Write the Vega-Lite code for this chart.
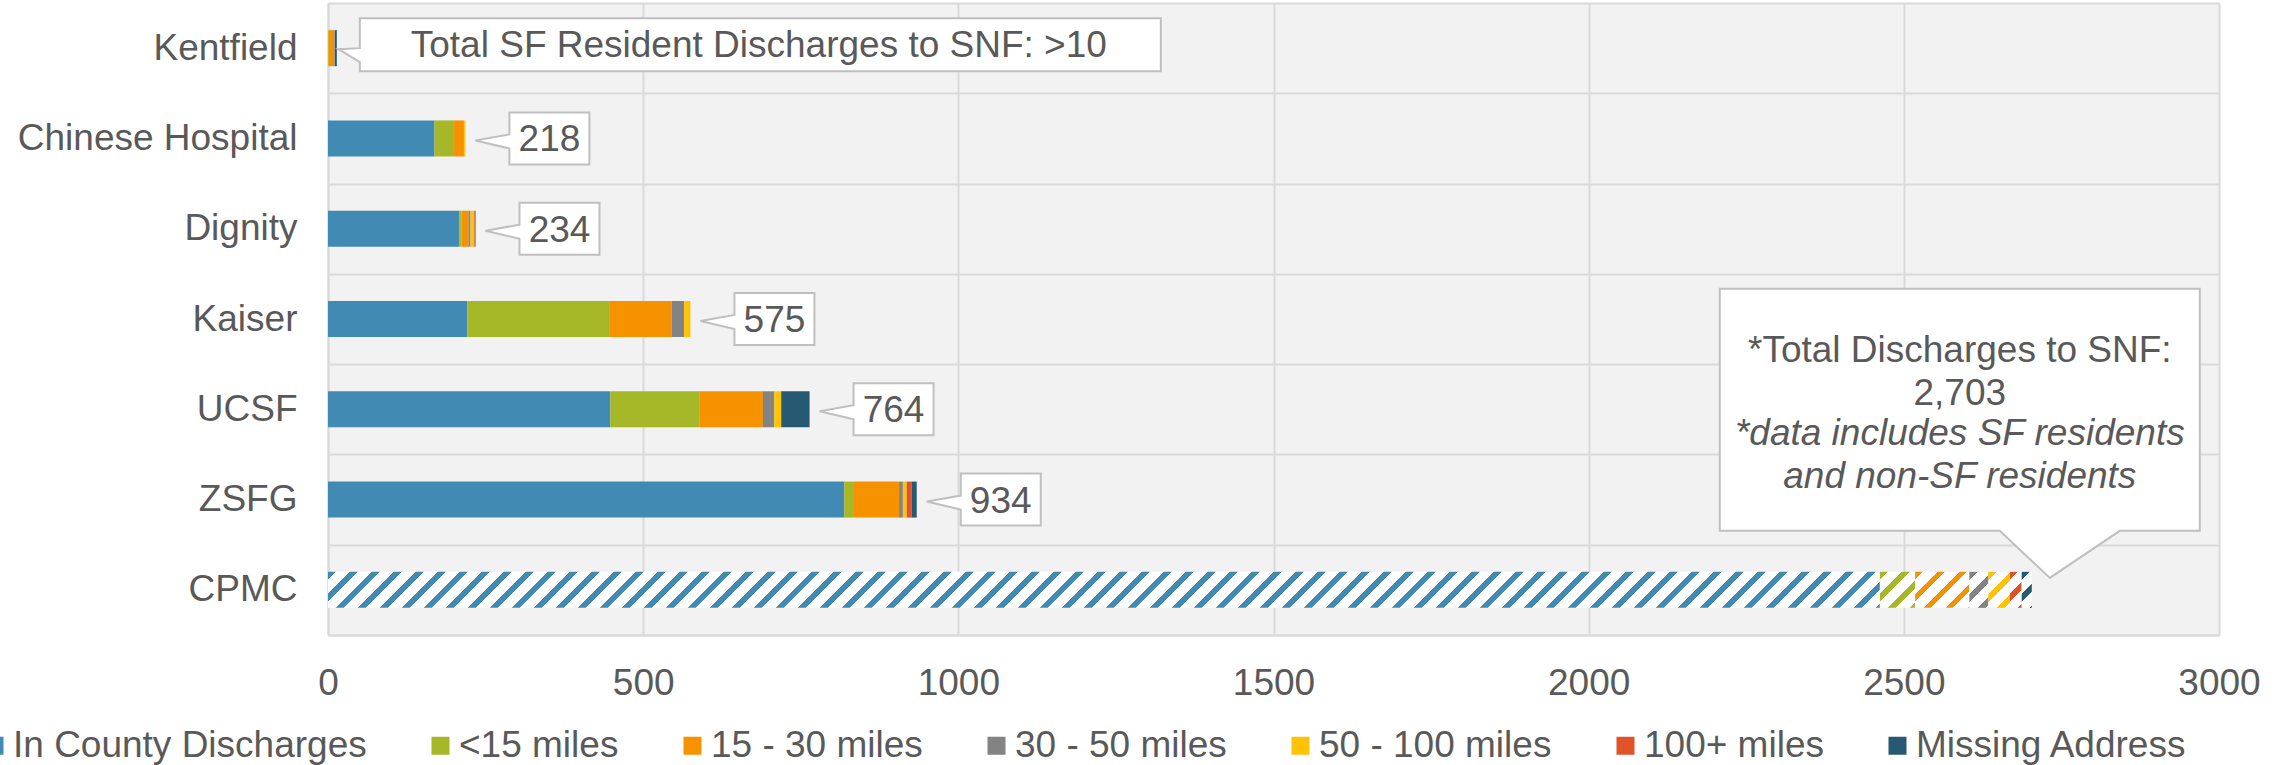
{
"$schema":"https://vega.github.io/schema/vega-lite/v6.json",
"width":1891,"height":632,"autosize":"none",
"padding":{"left":328,"top":3,"right":70,"bottom":130},
"background":"#ffffff",
"config":{"view":{"fill":"#F2F2F2","stroke":null},"font":"Liberation Sans"},
"datasets":{"snf":[
{"hospital":"Kentfield","band":"<15 miles","value":1},
{"hospital":"Kentfield","band":"15 - 30 miles","value":9},
{"hospital":"Kentfield","band":"30 - 50 miles","value":1},
{"hospital":"Kentfield","band":"Missing Address","value":3},
{"hospital":"Chinese Hospital","band":"In County Discharges","value":169},
{"hospital":"Chinese Hospital","band":"<15 miles","value":31},
{"hospital":"Chinese Hospital","band":"15 - 30 miles","value":15},
{"hospital":"Chinese Hospital","band":"30 - 50 miles","value":1},
{"hospital":"Chinese Hospital","band":"50 - 100 miles","value":2},
{"hospital":"Dignity","band":"In County Discharges","value":208},
{"hospital":"Dignity","band":"<15 miles","value":4},
{"hospital":"Dignity","band":"15 - 30 miles","value":11},
{"hospital":"Dignity","band":"30 - 50 miles","value":3},
{"hospital":"Dignity","band":"50 - 100 miles","value":6},
{"hospital":"Dignity","band":"100+ miles","value":1},
{"hospital":"Dignity","band":"Missing Address","value":1},
{"hospital":"Kaiser","band":"In County Discharges","value":221},
{"hospital":"Kaiser","band":"<15 miles","value":225},
{"hospital":"Kaiser","band":"15 - 30 miles","value":99},
{"hospital":"Kaiser","band":"30 - 50 miles","value":20},
{"hospital":"Kaiser","band":"50 - 100 miles","value":10},
{"hospital":"UCSF","band":"In County Discharges","value":448},
{"hospital":"UCSF","band":"<15 miles","value":141},
{"hospital":"UCSF","band":"15 - 30 miles","value":101},
{"hospital":"UCSF","band":"30 - 50 miles","value":18},
{"hospital":"UCSF","band":"50 - 100 miles","value":11},
{"hospital":"UCSF","band":"Missing Address","value":45},
{"hospital":"ZSFG","band":"In County Discharges","value":819},
{"hospital":"ZSFG","band":"<15 miles","value":14},
{"hospital":"ZSFG","band":"15 - 30 miles","value":73},
{"hospital":"ZSFG","band":"30 - 50 miles","value":6},
{"hospital":"ZSFG","band":"50 - 100 miles","value":6},
{"hospital":"ZSFG","band":"100+ miles","value":8},
{"hospital":"ZSFG","band":"Missing Address","value":8},
{"hospital":"CPMC","band":"In County Discharges","value":2462},
{"hospital":"CPMC","band":"<15 miles","value":56},
{"hospital":"CPMC","band":"15 - 30 miles","value":86},
{"hospital":"CPMC","band":"30 - 50 miles","value":30},
{"hospital":"CPMC","band":"50 - 100 miles","value":34},
{"hospital":"CPMC","band":"100+ miles","value":19},
{"hospital":"CPMC","band":"Missing Address","value":16}
]},
"data":{"name":"snf"},
"transform":[
{"calculate":"indexof(['In County Discharges','<15 miles','15 - 30 miles','30 - 50 miles','50 - 100 miles','100+ miles','Missing Address'], datum.band)","as":"ord"},
{"stack":"value","groupby":["hospital"],"sort":[{"field":"ord","order":"ascending"}],"as":["x0","x1"]}
],
"encoding":{"y":{"field":"hospital","type":"nominal","title":null,
"scale":{"domain":["Kentfield","Chinese Hospital","Dignity","Kaiser","UCSF","ZSFG","CPMC"],"paddingInner":0,"paddingOuter":0},
"axis":{"labelFontSize":37,"labelColor":"#595959","labelPadding":31,"ticks":false,"tickSize":0,"domain":true,"domainColor":"#D9D9D9","domainWidth":2,"grid":true,"gridColor":"#D9D9D9","gridWidth":2,"tickBand":"extent","labelLimit":0}}},
"layer":[
{"transform":[{"filter":"datum.hospital != 'CPMC'"}],
"mark":{"type":"bar","size":36},
"encoding":{
"x":{"field":"x0","type":"quantitative","title":null,"scale":{"domain":[0,3000],"nice":false},
"axis":{"values":[0,500,1000,1500,2000,2500,3000],"format":"d","labelFontSize":37,"labelColor":"#595959","labelPadding":30,"ticks":false,"domain":true,"domainColor":"#D9D9D9","domainWidth":2,"grid":true,"gridColor":"#D9D9D9","gridWidth":2,"labelFlush":false,"labelOverlap":false}},
"x2":{"field":"x1"},
"color":{"field":"band","type":"nominal",
"scale":{"domain":["In County Discharges","<15 miles","15 - 30 miles","30 - 50 miles","50 - 100 miles","100+ miles","Missing Address"],"range":["#418AB3","#A6B727","#F69200","#838383","#FEC306","#DF5327","#255A72"]},
"legend":{"title":null,"orient":"none","legendX":-352,"legendY":724,"direction":"horizontal","symbolType":"square","symbolSize":324,"symbolStrokeWidth":0,"symbolOpacity":1,"labelFontSize":37,"labelColor":"#595959","labelOffset":0,"columnPadding":55,"labelLimit":0,"padding":0}}}},
{"transform":[{"filter":"datum.hospital == 'CPMC' && datum.band == 'In County Discharges'"}],
"mark":{"type":"bar","size":36,"fill":{"gradient":"linear","x1":0,"y1":0,"x2":1.1335,"y2":0.026294,"stops":[
{"offset":0,"color":"#418AB3"},{"offset":0.0045,"color":"#418AB3"},{"offset":0.0045,"color":"#fff"},{"offset":0.0125,"color":"#fff"},
{"offset":0.0125,"color":"#418AB3"},{"offset":0.017,"color":"#418AB3"},{"offset":0.017,"color":"#fff"},{"offset":0.025,"color":"#fff"},
{"offset":0.025,"color":"#418AB3"},{"offset":0.0295,"color":"#418AB3"},{"offset":0.0295,"color":"#fff"},{"offset":0.0375,"color":"#fff"},
{"offset":0.0375,"color":"#418AB3"},{"offset":0.042,"color":"#418AB3"},{"offset":0.042,"color":"#fff"},{"offset":0.05,"color":"#fff"},
{"offset":0.05,"color":"#418AB3"},{"offset":0.0545,"color":"#418AB3"},{"offset":0.0545,"color":"#fff"},{"offset":0.0625,"color":"#fff"},
{"offset":0.0625,"color":"#418AB3"},{"offset":0.067,"color":"#418AB3"},{"offset":0.067,"color":"#fff"},{"offset":0.075,"color":"#fff"},
{"offset":0.075,"color":"#418AB3"},{"offset":0.0795,"color":"#418AB3"},{"offset":0.0795,"color":"#fff"},{"offset":0.0875,"color":"#fff"},
{"offset":0.0875,"color":"#418AB3"},{"offset":0.092,"color":"#418AB3"},{"offset":0.092,"color":"#fff"},{"offset":0.1,"color":"#fff"},
{"offset":0.1,"color":"#418AB3"},{"offset":0.1045,"color":"#418AB3"},{"offset":0.1045,"color":"#fff"},{"offset":0.1125,"color":"#fff"},
{"offset":0.1125,"color":"#418AB3"},{"offset":0.117,"color":"#418AB3"},{"offset":0.117,"color":"#fff"},{"offset":0.125,"color":"#fff"},
{"offset":0.125,"color":"#418AB3"},{"offset":0.1295,"color":"#418AB3"},{"offset":0.1295,"color":"#fff"},{"offset":0.1375,"color":"#fff"},
{"offset":0.1375,"color":"#418AB3"},{"offset":0.142,"color":"#418AB3"},{"offset":0.142,"color":"#fff"},{"offset":0.15,"color":"#fff"},
{"offset":0.15,"color":"#418AB3"},{"offset":0.1545,"color":"#418AB3"},{"offset":0.1545,"color":"#fff"},{"offset":0.1625,"color":"#fff"},
{"offset":0.1625,"color":"#418AB3"},{"offset":0.167,"color":"#418AB3"},{"offset":0.167,"color":"#fff"},{"offset":0.175,"color":"#fff"},
{"offset":0.175,"color":"#418AB3"},{"offset":0.1795,"color":"#418AB3"},{"offset":0.1795,"color":"#fff"},{"offset":0.1875,"color":"#fff"},
{"offset":0.1875,"color":"#418AB3"},{"offset":0.192,"color":"#418AB3"},{"offset":0.192,"color":"#fff"},{"offset":0.2,"color":"#fff"},
{"offset":0.2,"color":"#418AB3"},{"offset":0.2045,"color":"#418AB3"},{"offset":0.2045,"color":"#fff"},{"offset":0.2125,"color":"#fff"},
{"offset":0.2125,"color":"#418AB3"},{"offset":0.217,"color":"#418AB3"},{"offset":0.217,"color":"#fff"},{"offset":0.225,"color":"#fff"},
{"offset":0.225,"color":"#418AB3"},{"offset":0.2295,"color":"#418AB3"},{"offset":0.2295,"color":"#fff"},{"offset":0.2375,"color":"#fff"},
{"offset":0.2375,"color":"#418AB3"},{"offset":0.242,"color":"#418AB3"},{"offset":0.242,"color":"#fff"},{"offset":0.25,"color":"#fff"},
{"offset":0.25,"color":"#418AB3"},{"offset":0.2545,"color":"#418AB3"},{"offset":0.2545,"color":"#fff"},{"offset":0.2625,"color":"#fff"},
{"offset":0.2625,"color":"#418AB3"},{"offset":0.267,"color":"#418AB3"},{"offset":0.267,"color":"#fff"},{"offset":0.275,"color":"#fff"},
{"offset":0.275,"color":"#418AB3"},{"offset":0.2795,"color":"#418AB3"},{"offset":0.2795,"color":"#fff"},{"offset":0.2875,"color":"#fff"},
{"offset":0.2875,"color":"#418AB3"},{"offset":0.292,"color":"#418AB3"},{"offset":0.292,"color":"#fff"},{"offset":0.3,"color":"#fff"},
{"offset":0.3,"color":"#418AB3"},{"offset":0.3045,"color":"#418AB3"},{"offset":0.3045,"color":"#fff"},{"offset":0.3125,"color":"#fff"},
{"offset":0.3125,"color":"#418AB3"},{"offset":0.317,"color":"#418AB3"},{"offset":0.317,"color":"#fff"},{"offset":0.325,"color":"#fff"},
{"offset":0.325,"color":"#418AB3"},{"offset":0.3295,"color":"#418AB3"},{"offset":0.3295,"color":"#fff"},{"offset":0.3375,"color":"#fff"},
{"offset":0.3375,"color":"#418AB3"},{"offset":0.342,"color":"#418AB3"},{"offset":0.342,"color":"#fff"},{"offset":0.35,"color":"#fff"},
{"offset":0.35,"color":"#418AB3"},{"offset":0.3545,"color":"#418AB3"},{"offset":0.3545,"color":"#fff"},{"offset":0.3625,"color":"#fff"},
{"offset":0.3625,"color":"#418AB3"},{"offset":0.367,"color":"#418AB3"},{"offset":0.367,"color":"#fff"},{"offset":0.375,"color":"#fff"},
{"offset":0.375,"color":"#418AB3"},{"offset":0.3795,"color":"#418AB3"},{"offset":0.3795,"color":"#fff"},{"offset":0.3875,"color":"#fff"},
{"offset":0.3875,"color":"#418AB3"},{"offset":0.392,"color":"#418AB3"},{"offset":0.392,"color":"#fff"},{"offset":0.4,"color":"#fff"},
{"offset":0.4,"color":"#418AB3"},{"offset":0.4045,"color":"#418AB3"},{"offset":0.4045,"color":"#fff"},{"offset":0.4125,"color":"#fff"},
{"offset":0.4125,"color":"#418AB3"},{"offset":0.417,"color":"#418AB3"},{"offset":0.417,"color":"#fff"},{"offset":0.425,"color":"#fff"},
{"offset":0.425,"color":"#418AB3"},{"offset":0.4295,"color":"#418AB3"},{"offset":0.4295,"color":"#fff"},{"offset":0.4375,"color":"#fff"},
{"offset":0.4375,"color":"#418AB3"},{"offset":0.442,"color":"#418AB3"},{"offset":0.442,"color":"#fff"},{"offset":0.45,"color":"#fff"},
{"offset":0.45,"color":"#418AB3"},{"offset":0.4545,"color":"#418AB3"},{"offset":0.4545,"color":"#fff"},{"offset":0.4625,"color":"#fff"},
{"offset":0.4625,"color":"#418AB3"},{"offset":0.467,"color":"#418AB3"},{"offset":0.467,"color":"#fff"},{"offset":0.475,"color":"#fff"},
{"offset":0.475,"color":"#418AB3"},{"offset":0.4795,"color":"#418AB3"},{"offset":0.4795,"color":"#fff"},{"offset":0.4875,"color":"#fff"},
{"offset":0.4875,"color":"#418AB3"},{"offset":0.492,"color":"#418AB3"},{"offset":0.492,"color":"#fff"},{"offset":0.5,"color":"#fff"},
{"offset":0.5,"color":"#418AB3"},{"offset":0.5045,"color":"#418AB3"},{"offset":0.5045,"color":"#fff"},{"offset":0.5125,"color":"#fff"},
{"offset":0.5125,"color":"#418AB3"},{"offset":0.517,"color":"#418AB3"},{"offset":0.517,"color":"#fff"},{"offset":0.525,"color":"#fff"},
{"offset":0.525,"color":"#418AB3"},{"offset":0.5295,"color":"#418AB3"},{"offset":0.5295,"color":"#fff"},{"offset":0.5375,"color":"#fff"},
{"offset":0.5375,"color":"#418AB3"},{"offset":0.542,"color":"#418AB3"},{"offset":0.542,"color":"#fff"},{"offset":0.55,"color":"#fff"},
{"offset":0.55,"color":"#418AB3"},{"offset":0.5545,"color":"#418AB3"},{"offset":0.5545,"color":"#fff"},{"offset":0.5625,"color":"#fff"},
{"offset":0.5625,"color":"#418AB3"},{"offset":0.567,"color":"#418AB3"},{"offset":0.567,"color":"#fff"},{"offset":0.575,"color":"#fff"},
{"offset":0.575,"color":"#418AB3"},{"offset":0.5795,"color":"#418AB3"},{"offset":0.5795,"color":"#fff"},{"offset":0.5875,"color":"#fff"},
{"offset":0.5875,"color":"#418AB3"},{"offset":0.592,"color":"#418AB3"},{"offset":0.592,"color":"#fff"},{"offset":0.6,"color":"#fff"},
{"offset":0.6,"color":"#418AB3"},{"offset":0.6045,"color":"#418AB3"},{"offset":0.6045,"color":"#fff"},{"offset":0.6125,"color":"#fff"},
{"offset":0.6125,"color":"#418AB3"},{"offset":0.617,"color":"#418AB3"},{"offset":0.617,"color":"#fff"},{"offset":0.625,"color":"#fff"},
{"offset":0.625,"color":"#418AB3"},{"offset":0.6295,"color":"#418AB3"},{"offset":0.6295,"color":"#fff"},{"offset":0.6375,"color":"#fff"},
{"offset":0.6375,"color":"#418AB3"},{"offset":0.642,"color":"#418AB3"},{"offset":0.642,"color":"#fff"},{"offset":0.65,"color":"#fff"},
{"offset":0.65,"color":"#418AB3"},{"offset":0.6545,"color":"#418AB3"},{"offset":0.6545,"color":"#fff"},{"offset":0.6625,"color":"#fff"},
{"offset":0.6625,"color":"#418AB3"},{"offset":0.667,"color":"#418AB3"},{"offset":0.667,"color":"#fff"},{"offset":0.675,"color":"#fff"},
{"offset":0.675,"color":"#418AB3"},{"offset":0.6795,"color":"#418AB3"},{"offset":0.6795,"color":"#fff"},{"offset":0.6875,"color":"#fff"},
{"offset":0.6875,"color":"#418AB3"},{"offset":0.692,"color":"#418AB3"},{"offset":0.692,"color":"#fff"},{"offset":0.7,"color":"#fff"},
{"offset":0.7,"color":"#418AB3"},{"offset":0.7045,"color":"#418AB3"},{"offset":0.7045,"color":"#fff"},{"offset":0.7125,"color":"#fff"},
{"offset":0.7125,"color":"#418AB3"},{"offset":0.717,"color":"#418AB3"},{"offset":0.717,"color":"#fff"},{"offset":0.725,"color":"#fff"},
{"offset":0.725,"color":"#418AB3"},{"offset":0.7295,"color":"#418AB3"},{"offset":0.7295,"color":"#fff"},{"offset":0.7375,"color":"#fff"},
{"offset":0.7375,"color":"#418AB3"},{"offset":0.742,"color":"#418AB3"},{"offset":0.742,"color":"#fff"},{"offset":0.75,"color":"#fff"},
{"offset":0.75,"color":"#418AB3"},{"offset":0.7545,"color":"#418AB3"},{"offset":0.7545,"color":"#fff"},{"offset":0.7625,"color":"#fff"},
{"offset":0.7625,"color":"#418AB3"},{"offset":0.767,"color":"#418AB3"},{"offset":0.767,"color":"#fff"},{"offset":0.775,"color":"#fff"},
{"offset":0.775,"color":"#418AB3"},{"offset":0.7795,"color":"#418AB3"},{"offset":0.7795,"color":"#fff"},{"offset":0.7875,"color":"#fff"},
{"offset":0.7875,"color":"#418AB3"},{"offset":0.792,"color":"#418AB3"},{"offset":0.792,"color":"#fff"},{"offset":0.8,"color":"#fff"},
{"offset":0.8,"color":"#418AB3"},{"offset":0.8045,"color":"#418AB3"},{"offset":0.8045,"color":"#fff"},{"offset":0.8125,"color":"#fff"},
{"offset":0.8125,"color":"#418AB3"},{"offset":0.817,"color":"#418AB3"},{"offset":0.817,"color":"#fff"},{"offset":0.825,"color":"#fff"},
{"offset":0.825,"color":"#418AB3"},{"offset":0.8295,"color":"#418AB3"},{"offset":0.8295,"color":"#fff"},{"offset":0.8375,"color":"#fff"},
{"offset":0.8375,"color":"#418AB3"},{"offset":0.842,"color":"#418AB3"},{"offset":0.842,"color":"#fff"},{"offset":0.85,"color":"#fff"},
{"offset":0.85,"color":"#418AB3"},{"offset":0.8545,"color":"#418AB3"},{"offset":0.8545,"color":"#fff"},{"offset":0.8625,"color":"#fff"},
{"offset":0.8625,"color":"#418AB3"},{"offset":0.867,"color":"#418AB3"},{"offset":0.867,"color":"#fff"},{"offset":0.875,"color":"#fff"},
{"offset":0.875,"color":"#418AB3"},{"offset":0.8795,"color":"#418AB3"},{"offset":0.8795,"color":"#fff"},{"offset":0.8875,"color":"#fff"},
{"offset":0.8875,"color":"#418AB3"},{"offset":0.892,"color":"#418AB3"},{"offset":0.892,"color":"#fff"},{"offset":0.9,"color":"#fff"},
{"offset":0.9,"color":"#418AB3"},{"offset":0.9045,"color":"#418AB3"},{"offset":0.9045,"color":"#fff"},{"offset":1,"color":"#fff"}
]}},
"encoding":{"x":{"field":"x0","type":"quantitative","title":null,"scale":{"domain":[0,3000],"nice":false}},"x2":{"field":"x1"}}},
{"transform":[{"filter":"datum.hospital == 'CPMC' && datum.band == '<15 miles'"}],
"mark":{"type":"bar","size":36,"fill":{"gradient":"linear","x1":0,"y1":0,"x2":1.222,"y2":1.2462,"stops":[
{"offset":0,"color":"#A6B727"},{"offset":0.09,"color":"#A6B727"},{"offset":0.09,"color":"#fff"},{"offset":0.25,"color":"#fff"},
{"offset":0.25,"color":"#A6B727"},{"offset":0.34,"color":"#A6B727"},{"offset":0.34,"color":"#fff"},{"offset":0.5,"color":"#fff"},
{"offset":0.5,"color":"#A6B727"},{"offset":0.59,"color":"#A6B727"},{"offset":0.59,"color":"#fff"},{"offset":0.75,"color":"#fff"},
{"offset":0.75,"color":"#A6B727"},{"offset":0.84,"color":"#A6B727"},{"offset":0.84,"color":"#fff"},{"offset":1,"color":"#fff"}]}},
"encoding":{"x":{"field":"x0","type":"quantitative","title":null,"scale":{"domain":[0,3000],"nice":false}},"x2":{"field":"x1"}}},
{"transform":[{"filter":"datum.hospital == 'CPMC' && datum.band == '15 - 30 miles'"}],
"mark":{"type":"bar","size":36,"fill":{"gradient":"linear","x1":0,"y1":0,"x2":1.4083,"y2":0.9354,"stops":[
{"offset":0,"color":"#F69200"},{"offset":0.072,"color":"#F69200"},{"offset":0.072,"color":"#fff"},{"offset":0.2,"color":"#fff"},
{"offset":0.2,"color":"#F69200"},{"offset":0.272,"color":"#F69200"},{"offset":0.272,"color":"#fff"},{"offset":0.4,"color":"#fff"},
{"offset":0.4,"color":"#F69200"},{"offset":0.472,"color":"#F69200"},{"offset":0.472,"color":"#fff"},{"offset":0.6,"color":"#fff"},
{"offset":0.6,"color":"#F69200"},{"offset":0.672,"color":"#F69200"},{"offset":0.672,"color":"#fff"},{"offset":0.8,"color":"#fff"},
{"offset":0.8,"color":"#F69200"},{"offset":0.872,"color":"#F69200"},{"offset":0.872,"color":"#fff"},{"offset":1,"color":"#fff"}]}},
"encoding":{"x":{"field":"x0","type":"quantitative","title":null,"scale":{"domain":[0,3000],"nice":false}},"x2":{"field":"x1"}}},
{"transform":[{"filter":"datum.hospital == 'CPMC' && datum.band == '30 - 50 miles'"}],
"mark":{"type":"bar","size":36,"fill":{"gradient":"linear","x1":0,"y1":0,"x2":0.7548,"y2":1.4369,"stops":[
{"offset":0,"color":"#838383"},{"offset":0.12,"color":"#838383"},{"offset":0.12,"color":"#fff"},{"offset":0.3333,"color":"#fff"},
{"offset":0.3333,"color":"#838383"},{"offset":0.4533,"color":"#838383"},{"offset":0.4533,"color":"#fff"},{"offset":0.6667,"color":"#fff"},
{"offset":0.6667,"color":"#838383"},{"offset":0.7867,"color":"#838383"},{"offset":0.7867,"color":"#fff"},{"offset":1,"color":"#fff"}]}},
"encoding":{"x":{"field":"x0","type":"quantitative","title":null,"scale":{"domain":[0,3000],"nice":false}},"x2":{"field":"x1"}}},
{"transform":[{"filter":"datum.hospital == 'CPMC' && datum.band == '50 - 100 miles'"}],
"mark":{"type":"bar","size":36,"fill":{"gradient":"linear","x1":0,"y1":0,"x2":0.8052,"y2":1.3546,"stops":[
{"offset":0,"color":"#FEC306"},{"offset":0.12,"color":"#FEC306"},{"offset":0.12,"color":"#fff"},{"offset":0.3333,"color":"#fff"},
{"offset":0.3333,"color":"#FEC306"},{"offset":0.4533,"color":"#FEC306"},{"offset":0.4533,"color":"#fff"},{"offset":0.6667,"color":"#fff"},
{"offset":0.6667,"color":"#FEC306"},{"offset":0.7867,"color":"#FEC306"},{"offset":0.7867,"color":"#fff"},{"offset":1,"color":"#fff"}]}},
"encoding":{"x":{"field":"x0","type":"quantitative","title":null,"scale":{"domain":[0,3000],"nice":false}},"x2":{"field":"x1"}}},
{"transform":[{"filter":"datum.hospital == 'CPMC' && datum.band == '100+ miles'"}],
"mark":{"type":"bar","size":36,"fill":{"gradient":"linear","x1":0,"y1":0,"x2":0.55,"y2":1.65,"stops":[
{"offset":0,"color":"#DF5327"},{"offset":0.12,"color":"#DF5327"},{"offset":0.12,"color":"#fff"},{"offset":0.3333,"color":"#fff"},
{"offset":0.3333,"color":"#DF5327"},{"offset":0.4533,"color":"#DF5327"},{"offset":0.4533,"color":"#fff"},{"offset":0.6667,"color":"#fff"},
{"offset":0.6667,"color":"#DF5327"},{"offset":0.7867,"color":"#DF5327"},{"offset":0.7867,"color":"#fff"},{"offset":1,"color":"#fff"}]}},
"encoding":{"x":{"field":"x0","type":"quantitative","title":null,"scale":{"domain":[0,3000],"nice":false}},"x2":{"field":"x1"}}},
{"transform":[{"filter":"datum.hospital == 'CPMC' && datum.band == 'Missing Address'"}],
"mark":{"type":"bar","size":36,"fill":{"gradient":"linear","x1":0,"y1":0,"x2":0.4768,"y2":1.6996,"stops":[
{"offset":0,"color":"#255A72"},{"offset":0.12,"color":"#255A72"},{"offset":0.12,"color":"#fff"},{"offset":0.3333,"color":"#fff"},
{"offset":0.3333,"color":"#255A72"},{"offset":0.4533,"color":"#255A72"},{"offset":0.4533,"color":"#fff"},{"offset":0.6667,"color":"#fff"},
{"offset":0.6667,"color":"#255A72"},{"offset":0.7867,"color":"#255A72"},{"offset":0.7867,"color":"#fff"},{"offset":1,"color":"#fff"}]}},
"encoding":{"x":{"field":"x0","type":"quantitative","title":null,"scale":{"domain":[0,3000],"nice":false}},"x2":{"field":"x1"}}},
{"transform":[{"aggregate":[{"op":"sum","field":"value","as":"total"}],"groupby":["hospital"]}],
"encoding":{"x":{"field":"total","type":"quantitative","title":null,"scale":{"domain":[0,3000],"nice":false}}},
"layer":[
{"transform":[{"filter":"indexof(['Chinese Hospital','Dignity','Kaiser','UCSF','ZSFG'], datum.hospital) >= 0"}],
"mark":{"type":"point","shape":"M10,2L44,-4L44,-26L124,-26L124,26L44,26L44,10Z","size":4,"filled":true,"fill":"#ffffff","stroke":"#BFBFBF","strokeWidth":2,"opacity":1}},
{"transform":[{"filter":"indexof(['Chinese Hospital','Dignity','Kaiser','UCSF','ZSFG'], datum.hospital) >= 0"}],
"mark":{"type":"text","dx":84,"dy":2,"align":"center","baseline":"middle","fontSize":37,"color":"#595959"},
"encoding":{"text":{"field":"total","type":"quantitative","format":"d"}}},
{"transform":[{"filter":"datum.hospital == 'Kentfield'"}],
"mark":{"type":"point","shape":"M1.5,1L23,0L23,-30L824,-30L824,23L23,23L23,14Z","size":4,"filled":true,"fill":"#ffffff","stroke":"#BFBFBF","strokeWidth":2,"opacity":1}},
{"transform":[{"filter":"datum.hospital == 'Kentfield'"}],
"mark":{"type":"text","dx":422,"dy":-2,"align":"center","baseline":"middle","fontSize":37,"color":"#595959","text":"Total SF Resident Discharges to SNF: >10"}},
{"transform":[{"filter":"datum.hospital == 'CPMC'"}],
"mark":{"type":"point","shape":"M18,-12L-32,-59L-312,-59L-312,-301L168,-301L168,-59L88,-59Z","size":4,"filled":true,"fill":"#ffffff","stroke":"#BFBFBF","strokeWidth":2,"opacity":1}},
{"transform":[{"filter":"datum.hospital == 'CPMC'"}],
"mark":{"type":"text","dx":-72,"dy":-239,"align":"center","baseline":"middle","fontSize":37,"color":"#595959","text":"*Total Discharges to SNF:"}},
{"transform":[{"filter":"datum.hospital == 'CPMC'"}],
"mark":{"type":"text","dx":-72,"dy":-196,"align":"center","baseline":"middle","fontSize":37,"color":"#595959"},
"encoding":{"text":{"field":"total","type":"quantitative","format":",d"}}},
{"transform":[{"filter":"datum.hospital == 'CPMC'"}],
"mark":{"type":"text","dx":-72,"dy":-156,"align":"center","baseline":"middle","fontSize":37,"fontStyle":"italic","color":"#595959","text":"*data includes SF residents"}},
{"transform":[{"filter":"datum.hospital == 'CPMC'"}],
"mark":{"type":"text","dx":-72,"dy":-113,"align":"center","baseline":"middle","fontSize":37,"fontStyle":"italic","color":"#595959","text":"and non-SF residents"}}
]}
]
}
